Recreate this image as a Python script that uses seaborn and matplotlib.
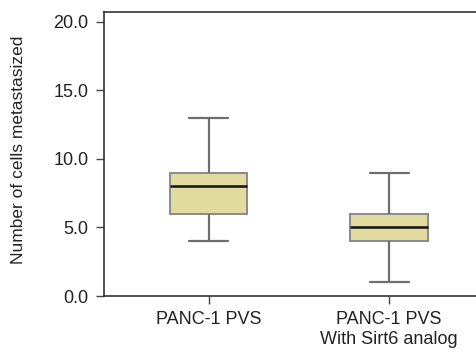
import matplotlib
matplotlib.use("Agg")
import matplotlib.pyplot as plt
import numpy as np
import pandas as pd
import seaborn as sns

# raw counts chosen so the box stats match the figure
groups = ["PANC-1 PVS", "PANC-1 PVS\nWith Sirt6 analog"]
pvs_counts = [4, 6, 6, 8, 8, 9, 9, 13]
sirt6_counts = [1, 4, 4, 5, 5, 6, 6, 9]
y_ticks = [0, 5, 10, 15, 20]
y_label = "Number of cells metastasized"

df = pd.DataFrame({
    "group": [groups[0]] * len(pvs_counts) + [groups[1]] * len(sirt6_counts),
    "cells": pvs_counts + sirt6_counts,
})

sns.set_style("ticks")
plt.rcParams["font.family"] = ["Liberation Sans", "DejaVu Sans"]

fig = plt.figure(figsize=(4.76, 3.54), dpi=100)
ax = fig.add_axes([0.2185, 0.1638, 0.80, 0.8022])

sns.boxplot(
    data=df, x="group", y="cells", order=groups, ax=ax,
    width=0.43, color="#e2dba0", whis=1.5, linewidth=1.4,
    boxprops={"edgecolor": "#8a8a8a", "facecolor": "#e2dba0"},
    whiskerprops={"color": "#6e6e6e", "linewidth": 1.6},
    capprops={"color": "#6e6e6e", "linewidth": 1.6},
    medianprops={"color": "#111111", "linewidth": 1.8},
    showfliers=False,
)

ax.set_xlim(-0.58, 1.53)
ax.set_ylim(0, 20.7)
ax.set_yticks(y_ticks)
ax.set_yticklabels([f"{v:.1f}" for v in y_ticks], fontsize=13, color="#222222")
ax.tick_params(axis="x", labelsize=13, colors="#444444", labelcolor="#222222",
               length=6, width=1, pad=5)
ax.tick_params(axis="y", colors="#444444", labelcolor="#222222", length=6, width=1, pad=5)
ax.set_xlabel("")
ax.set_ylabel(y_label, fontsize=12.5, color="#222222")
ax.yaxis.set_label_coords(-0.205, 0.514)

for side in ["left", "bottom", "top"]:
    ax.spines[side].set_color("#333333")
    ax.spines[side].set_linewidth(1.2)
ax.spines["right"].set_visible(False)

fig.savefig("out.png", dpi=100)
